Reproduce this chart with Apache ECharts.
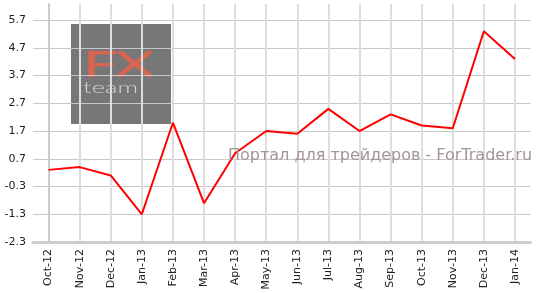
<!DOCTYPE html>
<html>
<head>
<meta charset="utf-8">
<script src="https://cdn.jsdelivr.net/npm/echarts@6/dist/echarts.min.js"></script>
<style>
  html, body { margin: 0; padding: 0; background: #fff; }
  #chart { width: 543px; height: 293px; }
</style>
</head>
<body>
<div id="chart"></div>
<script>
var months = ['Oct-12', 'Nov-12', 'Dec-12', 'Jan-13', 'Feb-13', 'Mar-13', 'Apr-13', 'May-13',
  'Jun-13', 'Jul-13', 'Aug-13', 'Sep-13', 'Oct-13', 'Nov-13', 'Dec-13', 'Jan-14']
var values = [0.3, 0.4, 0.1, -1.3, 2.0, -0.9, 0.9, 1.7, 1.6, 2.5, 1.7, 2.3, 1.9, 1.8, 5.3, 4.3]
var yTicks = [-2.3, -1.3, -0.3, 0.7, 1.7, 2.7, 3.7, 4.7, 5.7]
var yTop = 6.28 // axis runs a bit above the last label
var watermark = 'Портал для трейдеров - ForTrader.ru'

var font = '"DejaVu Sans", Verdana, sans-serif'
var yMin = yTicks[0]

// y ticks every 0.1, only every 10th one gets a grid line
var hColors = ['#c8c8c8']
for (var i = 0; i < 9; i++) hColors.push('rgba(0,0,0,0)')

var chart = echarts.init(document.getElementById('chart'))
chart.setOption({
  animation: false,
  grid: { left: 33, right: 12.5, top: 4, bottom: 51 },
  xAxis: [{
    type: 'category',
    data: months,
    boundaryGap: true,
    axisLine: { onZero: false, lineStyle: { color: '#cccccc', width: 3 } },
    axisTick: { alignWithLabel: true, interval: 0, length: 6, lineStyle: { color: '#dddddd', width: 2 } },
    axisLabel: { rotate: 90, interval: 0, margin: 7, fontSize: 11, color: '#222', fontFamily: font },
    splitLine: { show: false },
    z: 3
  }, {
    // helper axis only for the vertical lines through the month centres
    type: 'value',
    min: -0.5,
    max: months.length - 0.5,
    interval: 0.5,
    axisLine: { show: false },
    axisTick: { show: false },
    axisLabel: { show: false },
    splitLine: { show: true, lineStyle: { color: ['rgba(0,0,0,0)', '#dddddd'], width: 2 } }
  }],
  yAxis: {
    type: 'value',
    min: yMin,
    max: yTop,
    interval: 0.1,
    axisLine: { show: true, lineStyle: { color: '#cccccc', width: 2 } },
    axisTick: { show: false },
    axisLabel: {
      showMaxLabel: false,
      fontSize: 11,
      color: '#222',
      fontFamily: font,
      margin: 7,
      formatter: function (v) {
        var k = Math.round((v - yMin) * 10)
        return k % 10 === 0 ? v.toFixed(1) : ''
      }
    },
    splitLine: { show: true, lineStyle: { color: hColors, width: 1 } }
  },
  graphic: [
    { type: 'rect', z: -10, shape: { x: 71, y: 24, width: 100, height: 100 }, style: { fill: '#777777' } },
    { type: 'text', z: -9, x: 84, y: 48, scaleX: 1.7,
      style: { text: 'FX', font: '300 34px Lato', fill: 'rgba(0,0,0,0)', stroke: '#d9644f', lineWidth: 2 } },
    { type: 'text', z: -9, x: 83, y: 80, scaleX: 1.6,
      style: { text: 'team', font: '300 16px Lato', fill: '#d4d4d4' } },
    { type: 'text', z: 100, x: 228, y: 148,
      style: { text: watermark, font: '16px ' + font, fill: '#a39595' } }
  ],
  series: [{
    name: 'value',
    type: 'line',
    xAxisIndex: 0,
    data: values,
    showSymbol: false,
    lineStyle: { color: '#ff0000', width: 2 },
    itemStyle: { color: '#ff0000' },
    z: 3
  }]
})
</script>
</body>
</html>
